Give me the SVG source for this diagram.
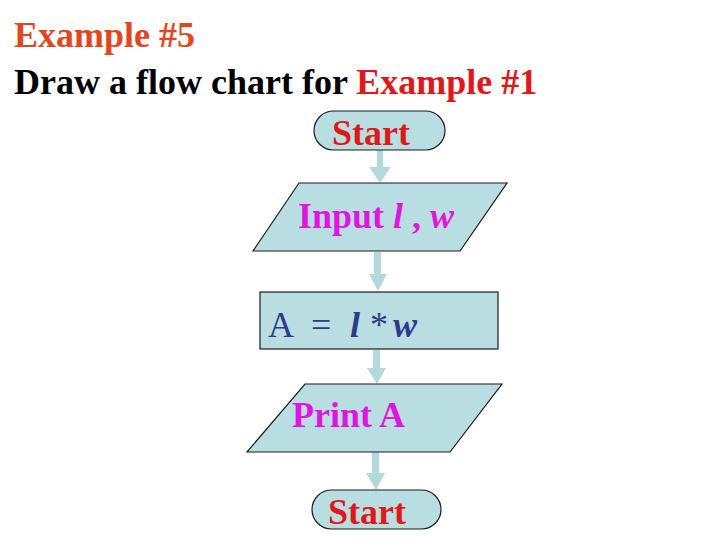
<svg xmlns="http://www.w3.org/2000/svg" width="720" height="540" viewBox="0 0 720 540">
<style>
.t{font-family:"Liberation Serif","Times New Roman",serif;font-size:36px;font-weight:bold}
.n{font-weight:normal}
.bi{font-weight:bold;font-style:italic}
.shape{fill:#b9dee1;stroke:#1a1a1a;stroke-width:1.2}
.arrow{fill:#b3d9dd}
.mag{fill:#e015e0}
.red{fill:#e01818}
.navy{fill:#2e3a8c}
</style>
<rect width="720" height="540" fill="#ffffff"/>
<g id="title">
<text class="t" x="14" y="47" fill="#e2461e">Example #5</text>
<text class="t" x="14" y="94" fill="#000000">Draw a flow chart for <tspan fill="#e01818">Example #1</tspan></text>
</g>
<g id="connectors">
<polygon class="arrow" points="377,150 383,150 383,167 391,167 380,183 369,167 377,167"/>
<polygon class="arrow" points="374,252 381,252 381,274 387,274 378,291 369,274 374,274"/>
<polygon class="arrow" points="373,350 380,350 380,368 386,368 377,384 367,368 373,368"/>
<polygon class="arrow" points="372,452 379,452 379,473 385,473 376,490 366,473 372,473"/>
</g>
<g id="start">
<rect class="shape" x="314" y="111" width="131" height="39" rx="19.5"/>
<text class="t red" x="332" y="145">Start</text>
</g>
<g id="input">
<polygon class="shape" points="299,183 507,183 460,251 253,251"/>
<text class="t mag" x="298" y="228">Input <tspan class="bi">l</tspan> , <tspan class="bi">w</tspan></text>
</g>
<g id="process">
<rect class="shape" x="260" y="292" width="238" height="57"/>
<text class="t navy n" y="337"><tspan x="268">A</tspan><tspan x="311">=</tspan><tspan x="350" class="bi">l</tspan><tspan x="370">*</tspan><tspan x="393" class="bi">w</tspan></text>
</g>
<g id="print">
<polygon class="shape" points="305,384 502,384 450,452 247,452"/>
<text class="t mag" x="292" y="427">Print A</text>
</g>
<g id="end">
<rect class="shape" x="312" y="490" width="129" height="39" rx="19.5"/>
<text class="t red" x="328" y="524">Start</text>
</g>
</svg>
